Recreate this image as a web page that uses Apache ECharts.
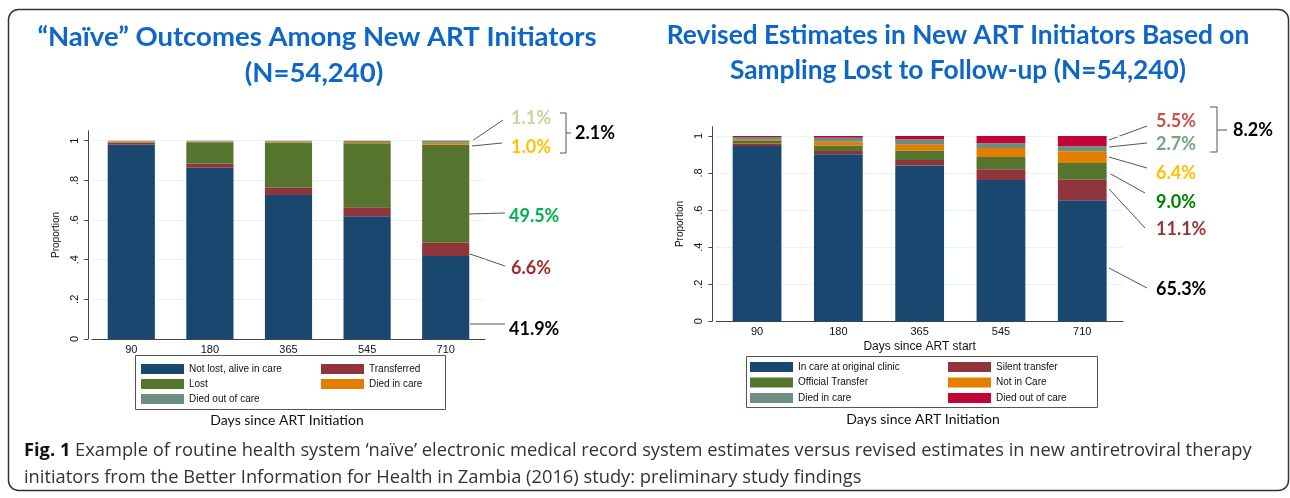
<!DOCTYPE html>
<html>
<head>
<meta charset="utf-8">
<script src="https://cdn.jsdelivr.net/npm/echarts@6/dist/echarts.min.js"></script>
<style>
  html, body { margin: 0; background: #fff; }
  #chart { width: 1290px; height: 498px; }
</style>
</head>
<body>
<div id="chart"></div>
<script>
// days since ART start (categories)
const days = ['90', '180', '365', '545', '710'];
const yTicks = [0, 0.2, 0.4, 0.6, 0.8, 1];

// "naive" EMR outcomes (proportions, bottom to top)
const notLost = [0.980, 0.864, 0.726, 0.619, 0.419];
const transferred = [0.010, 0.020, 0.037, 0.045, 0.066];
const lost = [0.002, 0.108, 0.227, 0.323, 0.495];
const diedInCare = [0.005, 0.004, 0.005, 0.006, 0.010];
const diedOutCare = [0.003, 0.004, 0.005, 0.007, 0.011];

// revised estimates after sampling lost to follow-up
const inCare = [0.946, 0.901, 0.840, 0.763, 0.653];
const silentTransfer = [0.013, 0.018, 0.030, 0.057, 0.111];
const officialTransfer = [0.014, 0.029, 0.051, 0.067, 0.090];
const notInCare = [0.006, 0.021, 0.034, 0.048, 0.064];
const revDiedInCare = [0.015, 0.022, 0.027, 0.026, 0.027];
const revDiedOutCare = [0.006, 0.009, 0.018, 0.039, 0.055];

// stata s2color palette
const navy = '#1a476f', maroon = '#90353b', forest = '#55752f',
      dkorange = '#e37e00', teal = '#6e8e84', cranberry = '#c10534';

const axisFont = 'Liberation Sans';
const titleBlue = '#0e66c8';

const myChart = echarts.init(document.getElementById('chart'));

const fmtTick = v => (v === 0 ? '0' : v === 1 ? '1' : String(v).replace(/^0/, ''));

const makeX = (gridIndex, name) => ({
  type: 'category',
  gridIndex,
  data: days,
  name: name,
  nameLocation: 'middle',
  nameGap: 19,
  nameTextStyle: { fontFamily: axisFont, fontSize: 12, color: '#111' },
  axisLine: { lineStyle: { color: '#444', width: 1 } },
  axisTick: { show: false },
  axisLabel: { fontFamily: axisFont, fontSize: 11, color: '#111', margin: 5 }
});

const makeY = gridIndex => ({
  type: 'value',
  gridIndex,
  min: 0,
  max: 1.05,
  interval: 0.2,
  offset: 4,
  name: 'Proportion',
  nameLocation: 'middle',
  nameGap: 27,
  nameRotate: 90,
  nameTextStyle: { fontFamily: axisFont, fontSize: 10, color: '#111' },
  axisLine: { show: true, lineStyle: { color: '#444', width: 1 } },
  axisTick: { show: true, length: 4, customValues: yTicks, lineStyle: { color: '#444' } },
  axisLabel: {
    customValues: yTicks, rotate: 90, margin: 8,
    fontFamily: axisFont, fontSize: 11, color: '#111', formatter: fmtTick
  },
  splitLine: { show: true, lineStyle: { color: '#eaf2f3', width: 1 } }
});

const bar = (name, data, color, idx) => ({
  name, type: 'bar', stack: 's' + idx, data,
  xAxisIndex: idx, yAxisIndex: idx,
  barWidth: '60%',
  itemStyle: { color },
  emphasis: { disabled: true }
});

const legendCol = (left, top, data, gap) => ({
  orient: 'vertical', left, top, padding: 0,
  itemWidth: 43, itemHeight: 10, itemGap: gap,
  icon: 'rect', data,
  textStyle: { fontFamily: axisFont, fontSize: 10, color: '#111', lineHeight: 10 }
});

const txt = (x, y, text, size, color, align, weight, family) => ({
  type: 'text', x, y, silent: true,
  style: {
    text, fill: color, fontSize: size, fontWeight: weight || 'bold',
    fontFamily: family || 'Lato', align: align || 'left', verticalAlign: 'middle'
  }
});
const seg = (x1, y1, x2, y2) => ({
  type: 'line', silent: true,
  shape: { x1, y1, x2, y2 },
  style: { stroke: '#555', lineWidth: 1 }
});
const bracket = (x0, x1, yTop, yBot) => ({
  type: 'polyline', silent: true,
  shape: { points: [[x0, yTop], [x1, yTop], [x1, yBot], [x0, yBot]] },
  style: { stroke: '#555', lineWidth: 1, fill: null }
});

const option = {
  animation: false,
  grid: [
    { left: 92, top: 130.8, width: 393, height: 208.2 },
    { left: 716.4, top: 126.7, width: 406.5, height: 194.6 }
  ],
  xAxis: [makeX(0, ''), makeX(1, 'Days since ART start')],
  yAxis: [makeY(0), makeY(1)],
  legend: [
    legendCol(141, 364, ['Not lost, alive in care', 'Lost', 'Died out of care'], 5),
    legendCol(321, 364, ['Transferred', 'Died in care'], 5),
    legendCol(750, 362, ['In care at original clinic', 'Official Transfer', 'Died in care '], 5.5),
    legendCol(948, 362, ['Silent transfer', 'Not in Care', 'Died out of care '], 5.5)
  ],
  series: [
    bar('Not lost, alive in care', notLost, navy, 0),
    bar('Transferred', transferred, maroon, 0),
    bar('Lost', lost, forest, 0),
    bar('Died in care', diedInCare, dkorange, 0),
    bar('Died out of care', diedOutCare, teal, 0),
    bar('In care at original clinic', inCare, navy, 1),
    bar('Silent transfer', silentTransfer, maroon, 1),
    bar('Official Transfer', officialTransfer, forest, 1),
    bar('Not in Care', notInCare, dkorange, 1),
    bar('Died in care ', revDiedInCare, teal, 1),
    bar('Died out of care ', revDiedOutCare, cranberry, 1)
  ],
  graphic: [
    // outer frame
    { type: 'rect', silent: true, shape: { x: 8.5, y: 9.5, width: 1280, height: 481, r: 10 },
      style: { fill: null, stroke: '#333', lineWidth: 1.5 } },
    // titles
    txt(317, 37, '“Naïve” Outcomes Among New ART Initiators', 27.5, titleBlue, 'center'),
    txt(314, 73, '(N=54,240)', 27.5, titleBlue, 'center'),
    txt(958, 36, 'Revised Estimates in New ART Initiators Based on', 26.3, titleBlue, 'center'),
    txt(958, 71, 'Sampling Lost to Follow-up (N=54,240)', 26.3, titleBlue, 'center'),
    // legend boxes
    { type: 'rect', silent: true, shape: { x: 135.5, y: 355.5, width: 310, height: 54 },
      style: { fill: null, stroke: '#555', lineWidth: 1 } },
    { type: 'rect', silent: true, shape: { x: 746.5, y: 356.5, width: 351, height: 51 },
      style: { fill: null, stroke: '#555', lineWidth: 1 } },
    txt(287, 420, 'Days since ART Initiation', 14, '#111', 'center', 'normal'),
    txt(923, 419, 'Days since ART Initiation', 14, '#111', 'center', 'normal'),
    // left annotations
    seg(472, 141, 503, 120), txt(511, 118, '1.1%', 18, '#c3d69b'),
    seg(472, 146, 502, 143), txt(511, 147, '1.0%', 18, '#ffc000'),
    bracket(560, 566, 113, 153), seg(566, 133, 571, 133), txt(575, 133, '2.1%', 18, '#000'),
    seg(468, 214, 505, 213), txt(509, 216, '49.5%', 18, '#00b050'),
    seg(470, 254, 505, 266), txt(511, 268, '6.6%', 18, '#a52a2e'),
    seg(470, 324, 505, 324), txt(509, 329, '41.9%', 18, '#000'),
    // right annotations
    seg(1109, 140, 1147, 126), txt(1156, 121, '5.5%', 18, '#c9504e'),
    seg(1109, 147, 1147, 143), txt(1156, 144, '2.7%', 18, '#77a67c'),
    seg(1109, 157, 1147, 168), txt(1156, 173, '6.4%', 18, '#ffc000'),
    seg(1109, 173, 1145, 193), txt(1156, 202, '9.0%', 18, '#008000'),
    seg(1109, 189, 1145, 228), txt(1156, 229, '11.1%', 18, '#953735'),
    seg(1109, 268, 1147, 288), txt(1156, 289, '65.3%', 18, '#000'),
    bracket(1210, 1217, 107, 152), seg(1217, 130, 1227, 130), txt(1233, 130, '8.2%', 18, '#000'),
    // caption
    {
      type: 'text', x: 24, y: 451, silent: true,
      style: {
        text: '{b|Fig. 1} Example of routine health system ‘naïve’ electronic medical record system estimates versus revised estimates in new antiretroviral therapy',
        fontFamily: 'Open Sans', fontSize: 18.3, fill: '#333', verticalAlign: 'middle',
        rich: { b: { fontFamily: 'Open Sans', fontSize: 18.3, fontWeight: 'bold', fill: '#111' } }
      }
    },
    txt(24, 478, 'initiators from the Better Information for Health in Zambia (2016) study: preliminary study findings', 18.3, '#333', 'left', 'normal', 'Open Sans')
  ]
};

myChart.setOption(option);
</script>
</body>
</html>
